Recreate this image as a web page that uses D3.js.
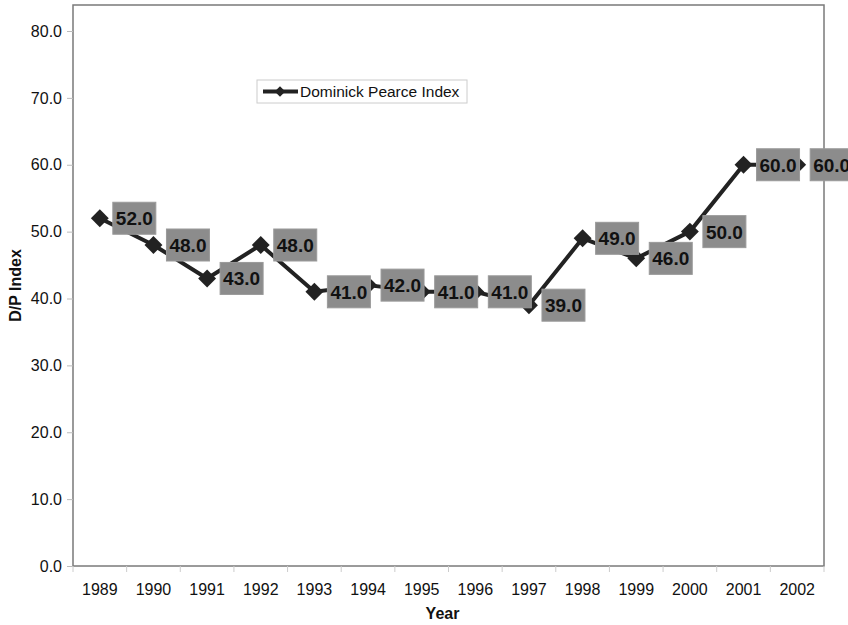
<!DOCTYPE html>
<html>
<head>
<meta charset="utf-8">
<script src="https://cdn.jsdelivr.net/npm/d3@7"></script>
<style>
  body { margin: 0; background: #fff; }
  svg { font-family: "Liberation Sans", Arial, sans-serif; }
</style>
</head>
<body>
<div id="chart"></div>
<script>
// data
const years = ["1989", "1990", "1991", "1992", "1993", "1994", "1995", "1996", "1997", "1998", "1999", "2000", "2001", "2002"];
const dpIndex = [52, 48, 43, 48, 41, 42, 41, 41, 39, 49, 46, 50, 60, 60];
const yTicks = [0, 10, 20, 30, 40, 50, 60, 70, 80];
const seriesName = "Dominick Pearce Index";

const width = 848, height = 625;
const plot = { left: 73, right: 824, top: 5, bottom: 566 };

const svg = d3.select("#chart").append("svg")
    .attr("width", width)
    .attr("height", height);

const x = d3.scaleBand()
    .domain(years)
    .range([plot.left, plot.right]);

const y = d3.scaleLinear()
    .domain([0, 80])
    .range([plot.bottom, 31]);

// plot frame
svg.append("rect")
    .attr("x", plot.left)
    .attr("y", plot.top)
    .attr("width", plot.right - plot.left)
    .attr("height", plot.bottom - plot.top)
    .attr("fill", "none")
    .attr("stroke", "#7a7a7a")
    .attr("stroke-width", 1.5);

// y axis
const yAxis = svg.append("g")
    .attr("transform", `translate(${plot.left},0)`)
    .call(d3.axisLeft(y).tickValues(yTicks).tickFormat(d3.format(".1f")).tickSize(6).tickPadding(5));
yAxis.select(".domain").remove();
yAxis.selectAll(".tick line").attr("stroke", "#bbb");
yAxis.selectAll("text")
    .attr("fill", "#111")
    .style("font-size", "16px");

// x axis
const xAxis = svg.append("g")
    .attr("transform", `translate(0,${plot.bottom})`)
    .call(d3.axisBottom(x).tickSize(0).tickPadding(17.5));
xAxis.select(".domain").remove();
xAxis.selectAll("text")
    .attr("fill", "#111")
    .style("font-size", "16px");

// tick marks between categories
svg.append("g")
    .selectAll("line")
    .data(years.concat(["end"]))
    .join("line")
    .attr("x1", (d, i) => plot.left + i * x.step())
    .attr("x2", (d, i) => plot.left + i * x.step())
    .attr("y1", plot.bottom)
    .attr("y2", plot.bottom + 6)
    .attr("stroke", "#ccc");

// axis titles
svg.append("text")
    .attr("x", (plot.left + plot.right) / 2 - 6)
    .attr("y", 619)
    .attr("text-anchor", "middle")
    .style("font-size", "16px")
    .style("font-weight", "bold")
    .attr("fill", "#111")
    .text("Year");

svg.append("text")
    .attr("transform", `translate(21,${(plot.top + plot.bottom) / 2}) rotate(-90)`)
    .attr("text-anchor", "middle")
    .style("font-size", "16px")
    .style("font-weight", "bold")
    .attr("fill", "#111")
    .text("D/P Index");

const points = years.map((yr, i) => ({ year: yr, value: dpIndex[i] }));
const cx = d => x(d.year) + x.bandwidth() / 2;

// line
svg.append("path")
    .datum(points)
    .attr("fill", "none")
    .attr("stroke", "#222")
    .attr("stroke-width", 4)
    .attr("stroke-linejoin", "round")
    .attr("d", d3.line().x(cx).y(d => y(d.value)));

// diamond markers
svg.append("g")
    .selectAll("path")
    .data(points)
    .join("path")
    .attr("transform", d => `translate(${cx(d)},${y(d.value)}) rotate(45)`)
    .attr("d", d3.symbol().type(d3.symbolSquare).size(160))
    .attr("fill", "#222");

// data labels
const labels = svg.append("g")
    .selectAll("g")
    .data(points)
    .join("g")
    .attr("transform", d => `translate(${cx(d) + 13},${y(d.value)})`);

labels.append("rect")
    .attr("x", 0)
    .attr("y", -16)
    .attr("width", 43)
    .attr("height", 32)
    .attr("fill", "#8c8c8c")
    .attr("stroke", "#9a9a9a");

labels.append("text")
    .attr("x", 21.5)
    .attr("y", 7)
    .attr("text-anchor", "middle")
    .style("font-size", "19px")
    .style("font-weight", "bold")
    .attr("fill", "#111")
    .text(d => d3.format(".1f")(d.value));

// legend
const legend = svg.append("g").attr("transform", "translate(257,80)");
legend.append("rect")
    .attr("width", 210)
    .attr("height", 23)
    .attr("fill", "#fff")
    .attr("stroke", "#ccc");
legend.append("line")
    .attr("x1", 6).attr("x2", 41)
    .attr("y1", 11.5).attr("y2", 11.5)
    .attr("stroke", "#222")
    .attr("stroke-width", 4);
legend.append("path")
    .attr("transform", "translate(23,11.5) rotate(45)")
    .attr("d", d3.symbol().type(d3.symbolSquare).size(55))
    .attr("fill", "#222");
legend.append("text")
    .attr("x", 43)
    .attr("y", 17)
    .style("font-size", "15.5px")
    .attr("fill", "#111")
    .text(seriesName);
</script>
</body>
</html>
